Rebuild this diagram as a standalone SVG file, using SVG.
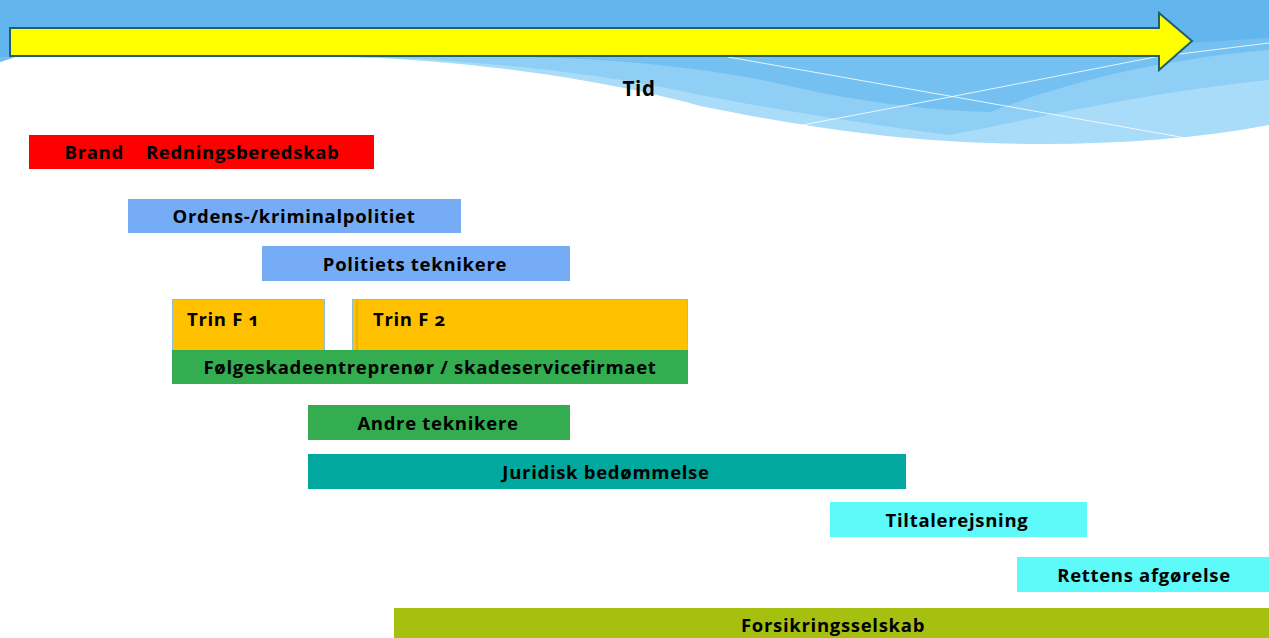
<svg xmlns="http://www.w3.org/2000/svg" width="1269" height="638" viewBox="0 0 1269 638">
<style>
  .lbl { font-family: "Open Sans", "Noto Sans", sans-serif; font-weight: bold; font-size: 18.5px; letter-spacing: 0.7px; fill: #000; text-anchor: middle; white-space: pre; font-variant-numeric: oldstyle-nums; }
  .lft { text-anchor: start; }
  .big { font-size: 20.5px; }
  .bar { stroke: none; }
</style>
<rect width="1269" height="638" fill="#ffffff"/>
<g id="background">
  <path d="M0,0 H1269 V125 C1180,142 1080,146 990,143 C880,140 780,122 700,106 C600,78 450,58 340,57 L15,57 L0,62 Z" fill="#a9dcf8"/>
  <path d="M0,0 H1269 V80 C1150,92 1050,115 950,135 C870,125 790,112 700,95 C600,72 450,57 340,57 L15,57 L0,62 Z" fill="#8fcef5"/>
  <path d="M0,0 H1269 V50 C1150,60 1060,85 990,112 C920,110 850,100 790,86 C720,70 620,57 500,57 L15,57 L0,62 Z" fill="#74c1f1"/>
  <path d="M0,0 H1269 V38 C1150,45 1000,55 900,57 L0,57 Z" fill="#62b5ed"/>
  <path d="M728,57 L955,97 L1186,138" fill="none" stroke="#ffffff" stroke-width="1" opacity="0.8"/>
  <path d="M792,127 L955,96 L1155,57 L1269,43" fill="none" stroke="#ffffff" stroke-width="1" opacity="0.8"/>
</g>
<g id="time-arrow">
  <path d="M10,28 H1159 V13 L1192,41 L1159,70 V56 H10 Z" fill="#ffff00" stroke="#1f5f70" stroke-width="2" stroke-linejoin="miter"/>
  <text class="lbl big" x="639" y="96">Tid</text>
</g>
<g id="brand">
  <rect class="bar" x="29" y="135" width="345" height="34" fill="#ff0000"/>
  <text class="lbl" x="202" y="159">Brand    Redningsberedskab</text>
</g>
<g id="ordens">
  <rect class="bar" x="128" y="199" width="333" height="34" fill="#76acf5"/>
  <text class="lbl" x="294" y="223">Ordens-/kriminalpolitiet</text>
</g>
<g id="politiets">
  <rect class="bar" x="262" y="246" width="308" height="35" fill="#76acf5"/>
  <text class="lbl" x="415" y="270.5">Politiets teknikere</text>
</g>
<g id="trin-f1">
  <rect x="172.5" y="299.5" width="152" height="52" fill="#ffc000" stroke="#8fbfd4" stroke-width="1"/>
  <text class="lbl lft" x="187" y="326">Trin F 1</text>
</g>
<g id="trin-f2">
  <rect x="352.5" y="299.5" width="335" height="52" fill="#ffc000" stroke="#8fbfd4" stroke-width="1"/>
  <line x1="357" y1="300" x2="357" y2="351" stroke="#d9a300" stroke-width="1"/>
  <text class="lbl lft" x="373" y="326">Trin F 2</text>
</g>
<g id="folgeskade">
  <rect class="bar" x="172" y="350" width="516" height="34" fill="#33ad4f"/>
  <text class="lbl" x="430" y="374">Følgeskadeentreprenør / skadeservicefirmaet</text>
</g>
<g id="andre">
  <rect class="bar" x="308" y="405" width="262" height="35" fill="#33ad4f"/>
  <text class="lbl" x="438" y="429.5">Andre teknikere</text>
</g>
<g id="juridisk">
  <rect class="bar" x="308" y="454" width="598" height="35" fill="#00a89d"/>
  <text class="lbl" x="606" y="478.5">Juridisk bedømmelse</text>
</g>
<g id="tiltale">
  <rect class="bar" x="830" y="502" width="257" height="35" fill="#5ef9f9"/>
  <text class="lbl" x="957" y="526.5">Tiltalerejsning</text>
</g>
<g id="rettens">
  <rect class="bar" x="1017" y="557" width="252" height="35" fill="#5ef9f9"/>
  <text class="lbl" x="1144" y="581.5">Rettens afgørelse</text>
</g>
<g id="forsikring">
  <rect class="bar" x="394" y="608" width="875" height="30" fill="#a5c00f"/>
  <text class="lbl" x="833" y="632">Forsikringsselskab</text>
</g>
<g id="connectors"></g>
</svg>
